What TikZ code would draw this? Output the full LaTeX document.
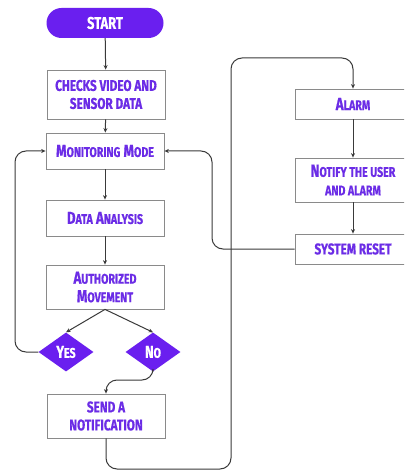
\documentclass[tikz,border=0pt]{standalone}
\usepackage{fontspec}
\newfontfamily\labfont[FakeStretch=0.76, BoldFeatures={FakeBold=0.6}]{Fira Sans}
\usetikzlibrary{shapes.geometric,arrows.meta}
\definecolor{brandviolet}{HTML}{6A1FEF}
\definecolor{txtviolet}{HTML}{6B2CE6}
\definecolor{boxgray}{HTML}{8A8A8A}
\definecolor{linegray}{HTML}{3A3A3A}
% smaller capitals for the small-caps look
\newcommand\lc[1]{{\fontsize{14}{18}\selectfont #1}}
\tikzset{
  box/.style={draw=boxgray, line width=0.8pt, fill=white, minimum width=118pt,
    text=txtviolet, font=\labfont\bfseries\fontsize{17.5}{18.5}\selectfont,
    align=center, inner sep=1pt},
  capsbox/.style={box, font=\labfont\bfseries\fontsize{15.5}{18}\selectfont},
  pill/.style={fill=brandviolet, rounded corners=15pt, minimum width=117pt,
    minimum height=30pt, text=white, font=\labfont\bfseries\fontsize{17}{18}\selectfont},
  choice/.style={diamond, fill=brandviolet, minimum width=55pt, minimum height=39pt,
    aspect=1.4, inner sep=0pt, text=white,
    font=\labfont\bfseries\fontsize{17}{18}\selectfont},
  flow/.style={draw=linegray, line width=1pt, -{Stealth[length=4.5pt,width=4pt]},
    rounded corners=11pt},
}
\begin{document}
\begin{tikzpicture}[x=1pt,y=-1pt]
\clip (0,0) rectangle (404,470);
\fill[white] (0,0) rectangle (404,470);

% left column
\node[pill] (start) at (105,23) {START};
\node[capsbox, minimum height=49pt] (check) at (106,94.5) {CHECKS VIDEO AND\\SENSOR DATA};
\node[box, minimum height=36pt] (mon) at (105,151) {M\lc{ONITORING} M\lc{ODE}};
\node[box, minimum height=36pt] (data) at (105,218) {D\lc{ATA} A\lc{NALYSIS}};
\node[box, minimum height=44pt] (auth) at (105,287) {A\lc{UTHORIZED}\\M\lc{OVEMENT}};
\node[choice] (yes) at (66,352) {Y\lc{ES}};
\node[choice] (no) at (153,352) {N\lc{O}};
\node[capsbox, minimum height=44pt] (send) at (106,416) {SEND A\\NOTIFICATION};

% right column (runs past the right edge)
\node[box, minimum width=116pt, minimum height=30pt] (alarm) at (353,104) {A\lc{LARM}};
\node[box, minimum width=116pt, minimum height=44pt] (notify) at (353,180) {N\lc{OTIFY THE USER}\\\lc{AND ALARM}};
\node[capsbox, minimum width=116pt, minimum height=30pt] (reset) at (353,249) {SYSTEM RESET};

% connectors
\draw[flow] (start) -- (check);
\draw[flow] (check) -- (mon);
\draw[flow] (mon) -- (data);
\draw[flow] (data) -- (auth);
\draw[flow] (auth.south) -- (yes.north);
\draw[flow] (auth.south) -- (no.north);
\draw[flow] (yes.west) -- (15,352) -- (15,151) -- (mon.west);
\draw[flow] (no.south) -- (153,380) -- (send.north |- 0,380) -- (send.north);
\draw[flow] (send.south) -- (send.south |- 0,469) -- (231,469) -- (231,58) -- (alarm.north |- 0,58) -- (alarm.north);
\draw[flow] (alarm) -- (notify);
\draw[flow] (notify) -- (reset);
\draw[flow] (reset.west) -- (212,249) -- (212,151) -- (mon.east);
\end{tikzpicture}
\end{document}
